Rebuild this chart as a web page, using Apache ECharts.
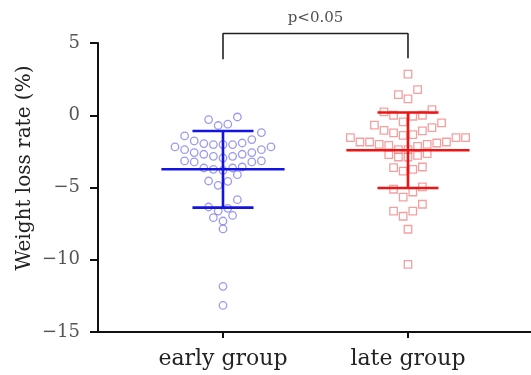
<!DOCTYPE html>
<html><head><meta charset="utf-8">
<script src="https://cdn.jsdelivr.net/npm/echarts@6/dist/echarts.min.js"></script>
<style>html,body{margin:0;padding:0;background:#fff}#c{width:531px;height:375px}</style>
</head><body><div id="c"></div>
<script>
// ---- data ----
const categories = ['early group', 'late group'];
const earlyValues = [-0.12, -0.62, -0.71, -0.30, -1.43, -1.20, -1.78, -1.96, -1.92, -1.68,
  -2.03, -2.19, -2.38, -2.58, -2.70, -2.84, -2.84, -2.70, -2.58, -2.38, -2.19, -2.03, -2.03,
  -3.16, -3.23, -3.23, -3.16, -2.96, -3.58, -3.65, -3.81, -3.74, -3.65, -4.11, -4.57, -4.85,
  -4.55, -5.84, -6.35, -6.63, -6.44, -7.09, -6.93, -7.32, -7.87, -11.84, -13.16];
const lateValues = [2.84, 1.78, 1.43, 1.13, 0, 0.23, 0.39, -0.07, 0, -0.46, -0.69, -0.53, -0.85,
  -1.08, -1.34, -1.55, -1.55, -1.85, -1.92, -1.85, -1.85, -1.55, -1.39, -1.22, -1.04,
  -2.01, -2.15, -2.38, -2.72, -2.89, -2.89, -2.77, -2.65, -2.38, -2.08, -2.01,
  -3.62, -3.86, -3.74, -3.58, -4.96, -5.31, -5.66, -5.12, -6.16, -6.63, -6.63, -6.99, -7.89, -10.32];
const means = [-3.74, -2.42];
const sds = [2.65, 2.61];
const pLabel = 'p<0.05';
const bracketTop = 5.66;
const bracketBottoms = [3.88, 3.95];
const pLabelY = 6.7;

// ---- layout / style ----
const W = 531, H = 375;
const grid = {left: 98, right: 0, top: 43, bottom: 43};
const xMin = 0.3243, xMax = 2.665;
const yMin = -15, yMax = 5;
const meanHalf = 0.333, capHalf = 0.165;
const dotDx = 9.6;   // px between neighbouring dots in a row
const rowH = 0.9;    // value span grouped into one row
const groupStyles = [
  {symbol: 'circle', border: '#8282ec', line: '#1414e0'},
  {symbol: 'rect', border: '#f08888', line: '#ee1414'}
];

const kx = (W - grid.left - grid.right) / (xMax - xMin);

// scatter-dot-plot layout: group close values in rows, spread each row around the centre
function rowLayout(values, center) {
  const sorted = values.slice().sort((a, b) => b - a);
  const rows = [];
  let cur = null;
  sorted.forEach(v => {
    if (!cur || cur.start - v >= rowH) { cur = {start: v, vals: []}; rows.push(cur); }
    cur.vals.push(v);
  });
  const out = [];
  rows.forEach(r => {
    const n = r.vals.length;
    const offs = [];
    for (let i = 0; i < n; i++) offs.push(i - (n - 1) / 2);
    offs.sort((a, b) => Math.abs(a) - Math.abs(b) || a - b);
    const asc = r.vals.slice().sort((a, b) => a - b);
    asc.forEach((v, i) => out.push([center + offs[i] * dotDx / kx, v]));
  });
  return out;
}

const series = [];
[earlyValues, lateValues].forEach((vals, g) => {
  const cx = g + 1;
  const st = groupStyles[g];
  series.push({
    type: 'scatter', data: rowLayout(vals, cx), symbol: st.symbol, symbolSize: 7.5, z: 2,
    itemStyle: {color: 'rgba(0,0,0,0)', borderColor: st.border, borderWidth: 1.3}
  });
  const m = means[g], s = sds[g];
  const segs = [
    [[cx - meanHalf, m], [cx + meanHalf, m]],
    [[cx - capHalf, m + s], [cx + capHalf, m + s]],
    [[cx - capHalf, m - s], [cx + capHalf, m - s]],
    [[cx, m + s], [cx, m - s]]
  ];
  segs.forEach(d => series.push({
    type: 'line', data: d, symbol: 'none', z: 5, silent: true,
    lineStyle: {color: st.line, width: 2.6}
  }));
});
series.push({
  type: 'line', symbol: 'none', clip: false, z: 5,
  data: [[1, bracketBottoms[0]], [1, bracketTop], [2, bracketTop], [2, bracketBottoms[1]]],
  lineStyle: {color: '#222', width: 1.6}
});
series.push({
  type: 'scatter', clip: false, symbolSize: 0, data: [[1.5, pLabelY]],
  label: {show: true, position: 'inside', formatter: pLabel, color: '#222',
    fontFamily: 'DejaVu Serif', fontSize: 15}
});

const chart = echarts.init(document.getElementById('c'), null, {renderer: 'canvas'});
chart.setOption({
  animation: false,
  backgroundColor: '#fff',
  grid: grid,
  xAxis: {
    type: 'value', min: xMin, max: xMax,
    splitLine: {show: false},
    axisLine: {show: true, onZero: false, lineStyle: {color: '#111', width: 2}},
    axisTick: {show: true, customValues: [1, 2], length: 6, lineStyle: {color: '#111', width: 2}},
    axisLabel: {customValues: [1, 2], formatter: v => categories[Math.round(v) - 1],
      fontFamily: 'DejaVu Serif', fontSize: 22, color: '#222', margin: 16}
  },
  yAxis: {
    type: 'value', min: yMin, max: yMax, interval: 5,
    splitLine: {show: false},
    axisLine: {show: true, onZero: false, lineStyle: {color: '#111', width: 2}},
    axisTick: {show: true, length: 8, lineStyle: {color: '#111', width: 2}},
    axisLabel: {formatter: v => v < 0 ? '\u2212' + Math.abs(v) : String(v),
      fontFamily: 'DejaVu Serif', fontSize: 18, color: '#555', margin: 18}
  },
  graphic: [{
    type: 'text', x: 25, y: 168, rotation: Math.PI / 2,
    style: {text: 'Weight loss rate (%)', fontFamily: 'DejaVu Serif', fontSize: 20,
      fill: '#222', align: 'center', verticalAlign: 'middle'}
  }],
  series: series
});
</script></body></html>
